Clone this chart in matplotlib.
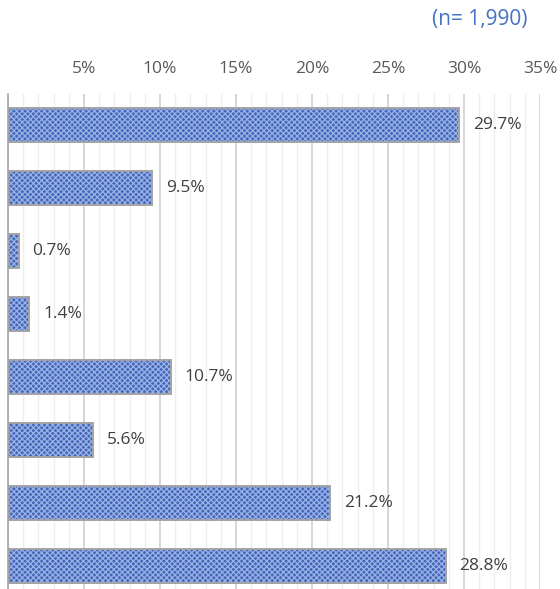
import matplotlib.pyplot as plt
from matplotlib.ticker import MultipleLocator, FuncFormatter

plt.rcParams['font.family'] = ['Open Sans', 'DejaVu Sans']
plt.rcParams['hatch.linewidth'] = 0.9

# values, top to bottom
values = [29.7, 9.5, 0.7, 1.4, 10.7, 5.6, 21.2, 28.8]
labels = [f"{v:.1f}%" for v in values]
n_text = "(n= 1,990)"

fig = plt.figure(figsize=(5.6, 5.89), dpi=100)
# axes runs off the bottom of the picture, like the cropped original
ax = fig.add_axes([8 / 560, -8 / 589, 532 / 560, 503 / 589])

ypos = list(range(len(values)))
# checkered fill: dark blue face with a light blue cross hatch on top
ax.barh(ypos, values, height=0.54, color='#4467bb', edgecolor='#9ab2e6',
        linewidth=0, hatch='xxxxxx', zorder=3)
ax.barh(ypos, values, height=0.54, fill=False, edgecolor='#a3a3a3',
        linewidth=1.4, zorder=4)

for y, v, t in zip(ypos, values, labels):
    ax.text(v + 0.9, y, t, va='center', ha='left', fontsize=12.5, color='#404040')

ax.set_xlim(0, 35)
ax.set_ylim(len(values) - 0.5, -0.5)
ax.xaxis.set_major_locator(MultipleLocator(5))
ax.xaxis.set_minor_locator(MultipleLocator(1))
ax.xaxis.set_major_formatter(FuncFormatter(lambda x, p: "" if x == 0 else f"{x:.0f}%"))
ax.xaxis.tick_top()
ax.tick_params(axis='x', which='both', length=0, labelsize=12.5, labelcolor='#595959', pad=12)
ax.set_yticks([])
ax.grid(axis='x', which='major', color='#cfcfcf', linewidth=1.2, zorder=0)
ax.grid(axis='x', which='minor', color='#eeeeee', linewidth=1.0, zorder=0)
for s in ['top', 'right', 'bottom']:
    ax.spines[s].set_visible(False)
ax.spines['left'].set_color('#a6a6a6')
ax.spines['left'].set_linewidth(1.2)

fig.text(528 / 560, 1 - 20 / 589, n_text, ha='right', va='center',
         fontsize=15, color='#4472c4')

fig.savefig("out.png", dpi=100)
